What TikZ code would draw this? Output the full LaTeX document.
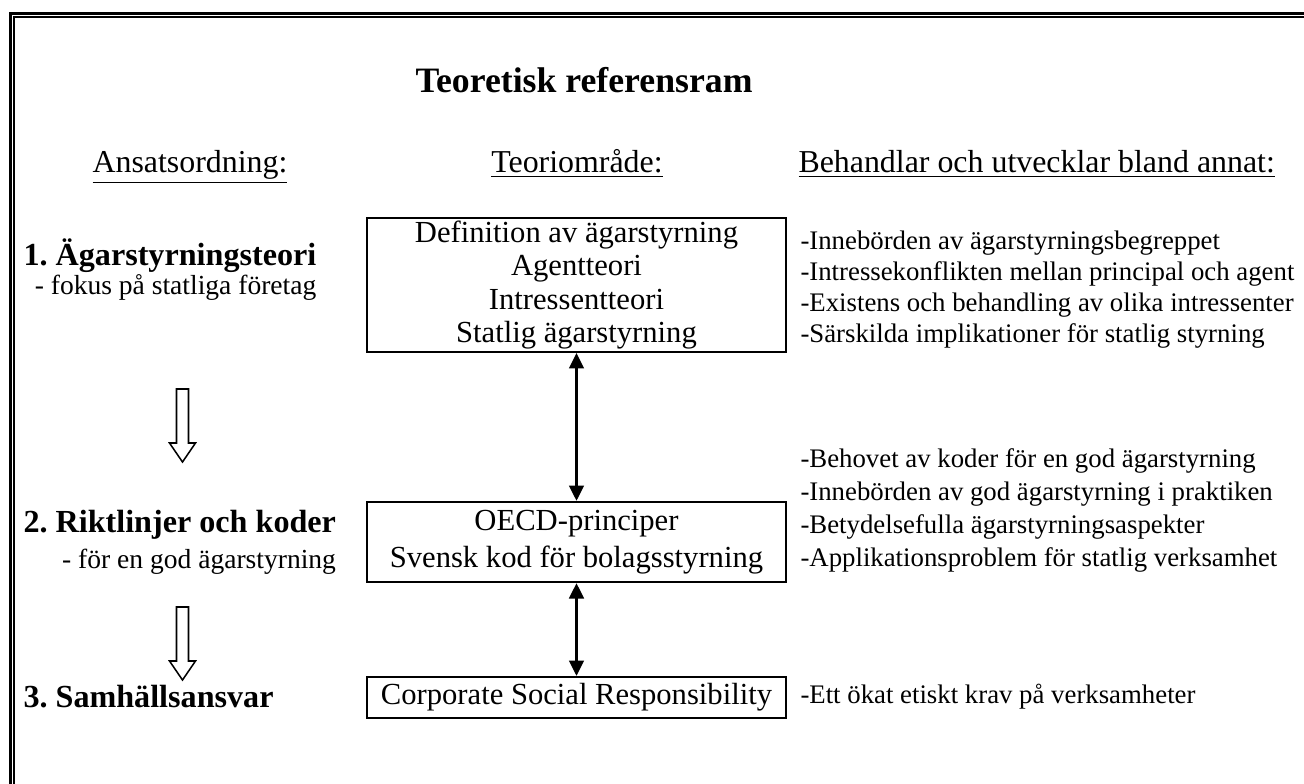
\documentclass[tikz,border=0pt]{standalone}
\usepackage{fontspec}
\setmainfont{Liberation Serif}
\usetikzlibrary{arrows.meta,positioning}
\frenchspacing

\begin{document}
\begin{tikzpicture}[x=0.392pt,y=-0.392pt,
  box/.style={draw,line width=0.9pt,minimum width=164.2pt,align=center,inner sep=0pt},
  head/.style={anchor=base,inner sep=0pt,font=\fontsize{12.5}{14}\selectfont},
  part/.style={anchor=west,inner sep=0pt,font=\fontsize{12.6}{14}\selectfont\bfseries},
  sub/.style={inner sep=0pt,font=\fontsize{10.8}{12}\selectfont},
  note/.style={anchor=west,inner sep=0pt,font=\fontsize{10.5}{12}\selectfont},
  link/.style={{Triangle[length=6pt,width=5.8pt]}-{Triangle[length=6pt,width=5.8pt]},line width=0.8pt},
  hollow/.style={draw,line width=0.6pt,fill=white}]
    \clip (0,0) rectangle (1304,784);
    % frame, only top and left edge inside the page
    \draw[line width=0.9pt] (10.5,800) |- (1320,13.5);
    \draw[line width=0.6pt] (13.8,800) |- (1320,16.8);
    \node[font=\fontsize{14}{16}\selectfont\bfseries] (title) at (584,80) {Teoretisk referensram};
    \node[head] (hdrpart) at (190,172) {\underline{Ansatsordning:}};
    \node[head] (hdrarea) at (577,172) {\underline{Teoriområde:}};
    \node[head,anchor=base west] (hdrnote) at (798,172) {\underline{Behandlar och utvecklar bland annat:}};
    % theory areas
    \node[box,minimum height=52.5pt,font=\fontsize{12}{13}\selectfont] (theory) at (576.5,285) {Definition av ägarstyrning\\Agentteori\\Intressentteori\\Statlig ägarstyrning};
    \node[box,minimum height=31.4pt,font=\fontsize{12}{14.5}\selectfont] (codes) at (576.5,542) {OECD-principer\\Svensk kod för bolagsstyrning};
    \node[box,minimum height=16.1pt,font=\fontsize{12}{13.5}\selectfont] (csr) at (576.5,697.5) {Corporate Social Responsibility};
    \draw[link] (theory.south) -- (codes.north);
    \draw[link] (codes.south) -- (csr.north);
    % parts
    \node[part] (part1) at (23,256) {1. Ägarstyrningsteori};
    \node[sub,below=12.2pt of part1.east,anchor=east] (sub1) {- fokus på statliga företag};
    \node[part] (part2) at (23,525) {2. Riktlinjer och koder};
    \node[sub,below=14.5pt of part2.east,anchor=east] (sub2) {- för en god ägarstyrning};
    \node[part] (part3) at (23,697) {3. Samhällsansvar};
    \foreach \y in {389,607}
      \draw[hollow] (176.5,\y) -- (188.5,\y) -- (188.5,{\y+54}) -- (195.5,{\y+54}) -- (182.5,{\y+73}) -- (169.5,{\y+54}) -- (176.5,{\y+54}) -- cycle;
    % notes
    \foreach \txt [count=\i] in {-Innebörden av ägarstyrningsbegreppet, -Intressekonflikten mellan principal och agent, -Existens och behandling av olika intressenter, -Särskilda implikationer för statlig styrning}
      \node[note] (note1\i) at (800,{212+31*\i}) {\txt};
    \foreach \txt [count=\i] in {-Behovet av koder för en god ägarstyrning, -Innebörden av god ägarstyrning i praktiken, -Betydelsefulla ägarstyrningsaspekter, -Applikationsproblem för statlig verksamhet}
      \node[note] (note2\i) at (800,{428+33*\i}) {\txt};
    \node[note] (note31) at (800,697) {-Ett ökat etiskt krav på verksamheter};
\end{tikzpicture}
\end{document}
